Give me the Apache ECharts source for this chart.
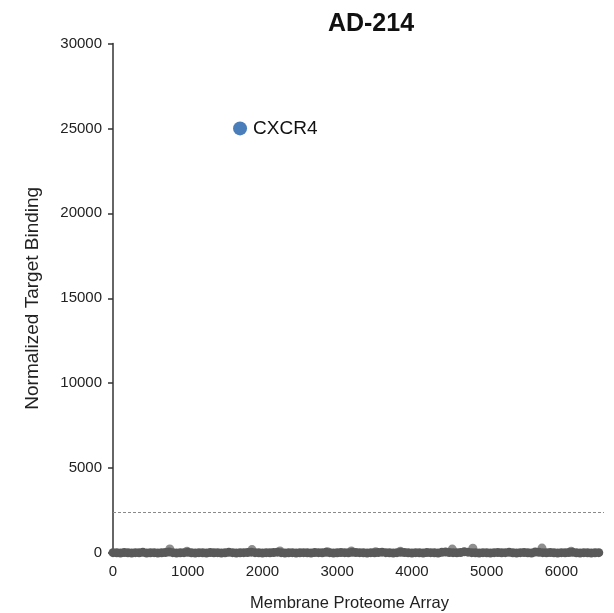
<!DOCTYPE html>
<html>
<head>
<meta charset="utf-8">
<script src="https://cdn.jsdelivr.net/npm/echarts@6/dist/echarts.min.js"></script>
<style>
  html, body { margin: 0; padding: 0; background: #fff; overflow: hidden; }
  #chart { width: 614px; height: 613px; }
</style>
</head>
<body>
<div id="chart"></div>
<script>
// Chart text
const chartTitle = 'AD-214';
const xAxisTitle = 'Membrane Proteome Array';
const yAxisTitle = 'Normalized Target Binding';

// Hit clone
const hitName = 'CXCR4';
const hitPosition = 1700;
const hitBinding = 25000;

// Background clones: binding per block of 50 array positions (0 … 6500)
const blockWidth = 50;
const backgroundBinding = [
  20, 10, 0, 30, 10, 0, 20, 10, 40, 0,
  10, 20, 0, 10, 30, 60, 20, 0, 10, 20,
  40, 10, 0, 20, 10, 0, 30, 10, 20, 0,
  10, 40, 20, 0, 10, 20, 30, 50, 20, 10,
  0, 20, 10, 30, 50, 20, 0, 10, 20, 0,
  10, 20, 10, 0, 30, 20, 10, 40, 20, 0,
  10, 30, 20, 10, 40, 30, 20, 10, 0, 20,
  10, 30, 50, 20, 10, 0, 20, 40, 30, 10,
  0, 20, 10, 0, 30, 20, 10, 0, 40, 60,
  30, 20, 10, 30, 70, 50, 20, 10, 0, 20,
  10, 0, 20, 30, 10, 20, 40, 10, 0, 20,
  30, 10, 0, 60, 40, 20, 10, 30, 10, 0,
  20, 10, 30, 40, 10, 0, 20, 10, 0, 10,
  20
];

// Slightly elevated background clones
const raisedPositions = [760, 990, 1860, 2235, 2870, 3190, 3515, 3845, 4540, 4815, 5740, 6130];
const raisedBinding   = [240, 100, 200, 120, 80, 120, 80, 100, 230, 280, 290, 110];

// Cut-off line and axes
const cutoff = 2400;
const yTicks = [0, 5000, 10000, 15000, 20000, 25000, 30000];
const xTickStep = 1000;
const xMax = 6570;

const backgroundPoints = backgroundBinding.map((v, i) => [i * blockWidth, v]);
const raisedPoints = raisedPositions.map((x, i) => [x, raisedBinding[i]]);

const font = 'Liberation Sans, Arial, sans-serif';
const chart = echarts.init(document.getElementById('chart'), null, { renderer: 'canvas', width: 614, height: 613 });

chart.setOption({
  animation: false,
  backgroundColor: '#ffffff',
  title: {
    text: chartTitle,
    left: 366,
    top: 7,
    textAlign: 'center',
    textStyle: { fontFamily: font, fontSize: 25, fontWeight: 'bold', color: '#111' }
  },
  grid: { left: 113, right: 10, top: 43.5, bottom: 60, containLabel: false, outerBoundsMode: 'none' },
  xAxis: {
    type: 'value',
    min: 0,
    max: xMax,
    interval: xTickStep,
    name: xAxisTitle,
    nameLocation: 'middle',
    nameGap: 42,
    nameTextStyle: { fontFamily: font, fontSize: 16.5, color: '#222', padding: [0, 18, 0, 0] },
    axisLine: { show: false },
    axisTick: { show: false },
    splitLine: { show: false },
    axisLabel: {
      fontFamily: font, fontSize: 15, color: '#222', margin: 11,
      showMaxLabel: false,
      formatter: v => (v % xTickStep === 0 ? String(v) : '')
    }
  },
  yAxis: {
    type: 'value',
    min: yTicks[0],
    max: yTicks[yTicks.length - 1],
    interval: yTicks[1] - yTicks[0],
    name: yAxisTitle,
    nameLocation: 'middle',
    nameGap: 71,
    nameTextStyle: { fontFamily: font, fontSize: 19, color: '#222' },
    axisLine: { show: true, onZero: false, lineStyle: { color: '#333', width: 1.5 } },
    axisTick: { show: true, inside: false, length: 5, lineStyle: { color: '#333', width: 1.5 } },
    splitLine: { show: false },
    axisLabel: {
      fontFamily: font, fontSize: 15, color: '#222', margin: 11,
      formatter: v => String(v)
    }
  },
  series: [
    {
      name: 'raised',
      type: 'scatter',
      data: raisedPoints,
      symbolSize: 9,
      itemStyle: { color: '#8f8f8f', opacity: 1 },
      z: 2,
      markLine: {
        silent: true,
        symbol: ['none', 'none'],
        label: { show: false },
        lineStyle: { color: '#8a8a8a', type: [3, 2], width: 1 },
        data: [{ yAxis: cutoff }]
      }
    },
    {
      name: 'background',
      type: 'scatter',
      data: backgroundPoints,
      symbolSize: 9,
      itemStyle: { color: '#595959', opacity: 1 },
      z: 3
    },
    {
      name: hitName,
      type: 'scatter',
      data: [[hitPosition, hitBinding]],
      symbolSize: 14,
      itemStyle: { color: '#4a7ebb', opacity: 1 },
      label: {
        show: true,
        position: 'right',
        distance: 6,
        formatter: hitName,
        fontFamily: font,
        fontSize: 19,
        color: '#111'
      },
      z: 4
    }
  ]
});
</script>
</body>
</html>
